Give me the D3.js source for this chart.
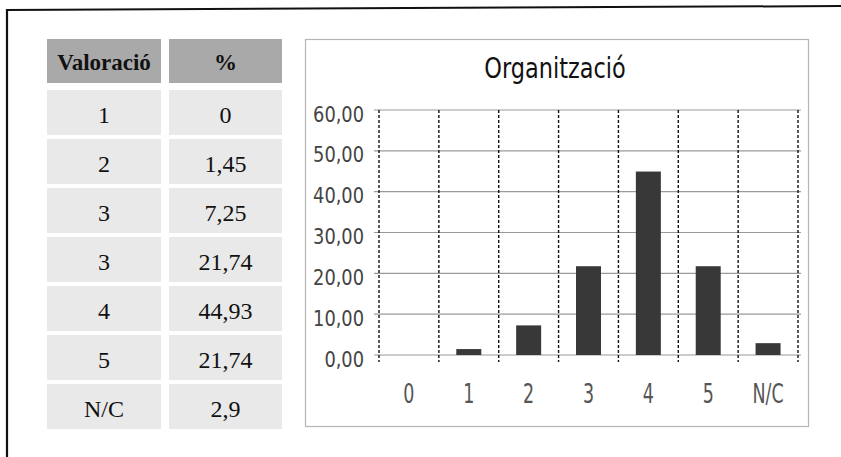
<!DOCTYPE html>
<html>
<head>
<meta charset="utf-8">
<script src="https://cdn.jsdelivr.net/npm/d3@7"></script>
<style>
  html, body { margin: 0; padding: 0; background: #fff; }
  svg { display: block; }
  .narrow { font-family: "Liberation Sans Narrow", "DejaVu Sans Condensed", "Arial Narrow", sans-serif; }
  .serif { font-family: "Liberation Serif", "DejaVu Serif", serif; }
</style>
</head>
<body>
<svg id="chart" width="841" height="457"></svg>
<script>
// ---- data ----
const title = "Organització";
const tableHeaders = ["Valoració", "%"];
const tableLabels = ["1", "2", "3", "3", "4", "5", "N/C"];
const tableValues = ["0", "1,45", "7,25", "21,74", "44,93", "21,74", "2,9"];
const categories = ["0", "1", "2", "3", "4", "5", "N/C"];
const values = [0, 1.45, 7.25, 21.74, 44.93, 21.74, 2.9];
const yTicks = [0, 10, 20, 30, 40, 50, 60];

const svg = d3.select("#chart");

// ---- outer page frame ----
svg.append("line").attr("x1", 6).attr("y1", 10).attr("x2", 841).attr("y2", 6)
  .attr("stroke", "#111").attr("stroke-width", 2);
svg.append("line").attr("x1", 7).attr("y1", 9).attr("x2", 7).attr("y2", 457)
  .attr("stroke", "#111").attr("stroke-width", 2.2);

// ---- table ----
const colX = [47, 169], colW = [114, 113];
const headY = 39, headH = 44, rowY0 = 90, rowStep = 49, rowH = 45;
const table = svg.append("g");
tableHeaders.forEach((h, j) => {
  table.append("rect").attr("x", colX[j]).attr("y", headY).attr("width", colW[j]).attr("height", headH)
    .attr("fill", "#a9a9a9");
  table.append("text").attr("class", "serif")
    .attr("x", colX[j] + colW[j] / 2).attr("y", headY + headH / 2 + 1)
    .attr("text-anchor", "middle").attr("dominant-baseline", "central")
    .attr("font-size", 23).attr("font-weight", "bold").attr("fill", "#111").text(h);
});
tableLabels.forEach((lab, i) => {
  const y = rowY0 + i * rowStep;
  [lab, tableValues[i]].forEach((t, j) => {
    table.append("rect").attr("x", colX[j]).attr("y", y).attr("width", colW[j]).attr("height", rowH)
      .attr("fill", "#e9e9e9");
    table.append("text").attr("class", "serif")
      .attr("x", colX[j] + colW[j] / 2).attr("y", y + rowH / 2 + 2)
      .attr("text-anchor", "middle").attr("dominant-baseline", "central")
      .attr("font-size", 24).attr("fill", "#111").text(t);
  });
});

// ---- chart box ----
svg.append("rect").attr("x", 305.5).attr("y", 39.5).attr("width", 503).attr("height", 387)
  .attr("fill", "#fff").attr("stroke", "#b5b5b5").attr("stroke-width", 1.2);

svg.append("text").attr("class", "narrow")
  .attr("text-anchor", "middle")
  .attr("transform", "translate(555,78) scale(0.86,1)")
  .attr("font-size", 29).attr("fill", "#111").text(title);

const x = d3.scaleBand().domain(categories).range([379, 798]).padding(0);
const y = d3.scaleLinear().domain([0, 60]).range([355, 110]);

// horizontal gridlines
const g = svg.append("g");
g.selectAll("line.h").data(yTicks).join("line")
  .attr("x1", 374).attr("x2", 801)
  .attr("y1", d => y(d)).attr("y2", d => y(d))
  .attr("stroke", "#9a9a9a").attr("stroke-width", 1.2);

// vertical dashed lines at band edges
const edges = categories.map(c => x(c)).concat([x.range()[1]]);
g.selectAll("line.v").data(edges).join("line")
  .attr("x1", d => d).attr("x2", d => d)
  .attr("y1", y(60)).attr("y2", y(0) + 7)
  .attr("stroke", "#111").attr("stroke-width", 1.4).attr("stroke-dasharray", "3,2");

// bars
const barW = 25;
g.selectAll("rect.bar").data(values).join("rect")
  .attr("x", (d, i) => x(categories[i]) + x.bandwidth() / 2 - barW / 2)
  .attr("width", barW)
  .attr("y", d => y(d)).attr("height", d => y(0) - y(d))
  .attr("fill", "#383838");

// y axis labels
const yAxis = d3.axisLeft(y).tickValues(yTicks).tickSize(0).tickPadding(0)
  .tickFormat(d => d3.format(".2f")(d).replace(".", ","));
const ya = svg.append("g").attr("transform", "translate(364,0)").call(yAxis);
ya.select(".domain").remove();
ya.selectAll("text").attr("class", "narrow").attr("font-size", 22).attr("fill", "#444")
  .attr("x", 0).attr("dy", "0.5em").attr("transform", "scale(0.9,1)");

// x axis labels
const xAxis = d3.axisBottom(x).tickSize(0).tickPadding(0);
const xa = svg.append("g").attr("transform", "translate(0,383)").call(xAxis);
xa.select(".domain").remove();
xa.selectAll("text").attr("class", "narrow").attr("font-size", 27).attr("fill", "#555")
  .attr("y", 0).attr("dy", "0.74em").attr("transform", "scale(0.72,1)");
</script>
</body>
</html>
